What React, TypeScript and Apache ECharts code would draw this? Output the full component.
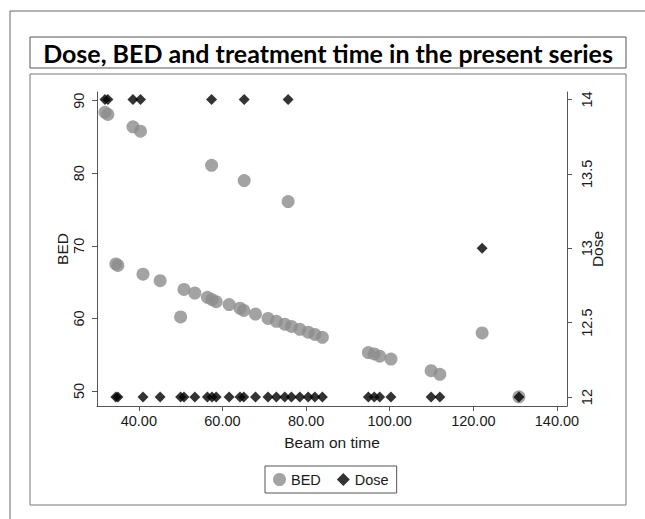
import React, { useEffect, useRef } from "react";
import * as echarts from "echarts";

const beamOnTime = [
  31.9, 32.6, 38.6, 40.4, 57.4, 65.2, 75.7,
  34.5, 35.0, 41.0, 45.1, 50.0, 50.8, 53.4, 56.4, 57.5, 58.5, 61.6, 64.2, 65.1, 67.9,
  70.9, 72.9, 74.9, 76.5, 78.5, 80.5, 82.1, 83.9, 94.9, 96.3, 97.6, 100.3, 109.9, 112.0,
  122.1, 130.9,
];
const bedValues = [
  88.4, 88.1, 86.4, 85.8, 81.1, 79.0, 76.1,
  67.5, 67.3, 66.1, 65.2, 60.2, 64.0, 63.5, 62.9, 62.6, 62.3, 61.9, 61.4, 61.1, 60.6,
  60.0, 59.6, 59.2, 58.9, 58.5, 58.1, 57.8, 57.4, 55.3, 55.1, 54.8, 54.4, 52.8, 52.3,
  58.0, 49.2,
];
const doseValues = [
  14, 14, 14, 14, 14, 14, 14,
  12, 12, 12, 12, 12, 12, 12, 12, 12, 12, 12, 12, 12, 12,
  12, 12, 12, 12, 12, 12, 12, 12, 12, 12, 12, 12, 12, 12,
  13, 12,
];
const xTicks = [40, 60, 80, 100, 120, 140];
const bedTicks = [50, 60, 70, 80, 90];
const doseTicks = [12, 12.5, 13, 13.5, 14];
const titleText = "Dose, BED and treatment time in the present series";

const FONT = "'Liberation Sans', Arial, sans-serif";
const AXIS_COLOR = "#555";
const TEXT_COLOR = "#1a1a1a";

export default function App() {
  const ref = useRef<HTMLDivElement>(null);

  useEffect(() => {
    if (!ref.current) return;
    const chart = echarts.init(ref.current, undefined, { renderer: "svg" });
    const bedData = beamOnTime.map((t, i) => [t, bedValues[i]]);
    const doseData = beamOnTime.map((t, i) => [t, doseValues[i]]);

    const axisCommon = {
      axisLine: { show: true, lineStyle: { color: AXIS_COLOR, width: 1 } },
      splitLine: { show: false },
      nameMoveOverlap: false,
      nameTextStyle: { fontFamily: FONT, fontSize: 15.5, color: TEXT_COLOR },
    };

    chart.setOption({
      animation: false,
      backgroundColor: "#fff",
      grid: { left: 97, right: 78, top: 92, bottom: 113, containLabel: false },
      xAxis: {
        type: "value",
        min: 30,
        max: 142.4,
        name: "Beam on time",
        nameLocation: "middle",
        nameGap: 28,
        ...axisCommon,
        axisTick: { show: true, length: 5, inside: false, customValues: xTicks, lineStyle: { color: AXIS_COLOR } },
        axisLabel: {
          customValues: xTicks,
          formatter: (v: number) => v.toFixed(2),
          fontFamily: FONT,
          fontSize: 14.5,
          color: TEXT_COLOR,
          margin: 7,
        },
      },
      yAxis: [
        {
          type: "value",
          min: 47.93,
          max: 91.2,
          name: "BED",
          nameLocation: "middle",
          nameGap: 27,
          position: "left",
          ...axisCommon,
          axisTick: { show: true, length: 5, customValues: bedTicks, lineStyle: { color: AXIS_COLOR } },
          axisLabel: {
            customValues: bedTicks,
            rotate: 90,
            fontFamily: FONT,
            fontSize: 14.5,
            color: TEXT_COLOR,
            margin: 11,
          },
        },
        {
          type: "value",
          min: 11.94,
          max: 14.05,
          name: "Dose",
          nameLocation: "middle",
          nameGap: 22,
          nameRotate: 90,
          position: "right",
          ...axisCommon,
          axisTick: { show: true, length: 5, customValues: doseTicks, lineStyle: { color: AXIS_COLOR } },
          axisLabel: {
            customValues: doseTicks,
            rotate: 90,
            formatter: (v: number) => String(v),
            fontFamily: FONT,
            fontSize: 14.5,
            color: TEXT_COLOR,
            margin: 12,
          },
        },
      ],
      legend: {
        left: 265,
        top: 466,
        orient: "horizontal",
        padding: [6, 8],
        itemGap: 16,
        itemWidth: 13,
        itemHeight: 13,
        borderColor: "#555",
        borderWidth: 1,
        textStyle: { fontFamily: FONT, fontSize: 14.5, color: TEXT_COLOR },
        data: [
          { name: "BED", icon: "circle" },
          { name: "Dose", icon: "diamond" },
        ],
      },
      series: [
        {
          name: "BED",
          type: "scatter",
          yAxisIndex: 0,
          symbol: "circle",
          symbolSize: 13,
          itemStyle: { color: "#8c8c8c" },
          data: bedData,
        },
        {
          name: "Dose",
          type: "scatter",
          yAxisIndex: 1,
          symbol: "diamond",
          symbolSize: 11,
          itemStyle: { color: "#000" },
          data: doseData,
        },
      ],
      graphic: [
        { type: "line", shape: { x1: 10, y1: 11, x2: 645, y2: 11 }, style: { stroke: "#666", lineWidth: 1 } },
        { type: "line", shape: { x1: 10, y1: 11, x2: 10, y2: 519 }, style: { stroke: "#666", lineWidth: 1 } },
        { type: "rect", shape: { x: 30, y: 37, width: 596, height: 31 }, style: { fill: "none", stroke: "#555", lineWidth: 1 } },
        { type: "rect", shape: { x: 30, y: 74, width: 596, height: 431 }, style: { fill: "none", stroke: "#777", lineWidth: 1 } },
        {
          type: "text",
          x: 328,
          y: 53,
          style: {
            text: titleText,
            fontFamily: "Lato, 'Open Sans', sans-serif",
            fontWeight: "bold",
            fontSize: 25,
            fill: "#000",
            align: "center",
            verticalAlign: "middle",
          },
        },
      ],
    });
    return () => chart.dispose();
  }, []);

  return <div ref={ref} style={{ width: 645, height: 519, position: "absolute", left: 0, top: 0 }} />;
}
